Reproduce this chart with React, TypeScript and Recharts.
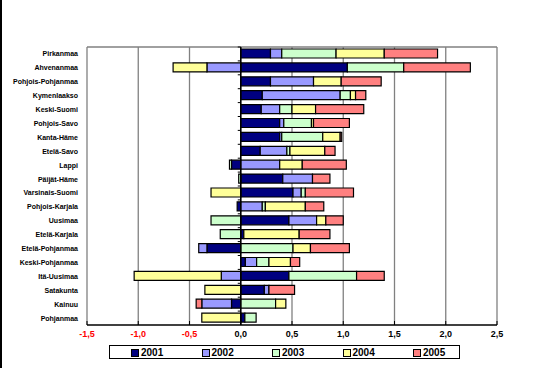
import { BarChart, Bar, XAxis, YAxis, CartesianGrid, ReferenceLine } from "recharts";

const categories = [
  "Pirkanmaa", "Ahvenanmaa", "Pohjois-Pohjanmaa", "Kymenlaakso", "Keski-Suomi",
  "Pohjois-Savo", "Kanta-Häme", "Etelä-Savo", "Lappi", "Päijät-Häme",
  "Varsinais-Suomi", "Pohjois-Karjala", "Uusimaa", "Etelä-Karjala", "Etelä-Pohjanmaa",
  "Keski-Pohjanmaa", "Itä-Uusimaa", "Satakunta", "Kainuu", "Pohjanmaa",
];

const y2001 = [0.29, 1.04, 0.29, 0.21, 0.2, 0.38, 0.38, 0.19, -0.09, 0.41, 0.51, -0.035, 0.47, 0.03, -0.33, 0.045, 0.47, 0.23, -0.09, 0.04];
const y2002 = [0.11, -0.33, 0.42, 0.76, 0.18, 0.04, 0.02, 0.26, 0.38, 0.29, 0.08, 0.21, 0.27, 0, -0.08, 0.11, -0.19, 0.045, -0.29, 0];
const y2003 = [0.53, 0.55, 0, 0.1, 0.12, 0.27, 0.4, 0.03, -0.02, -0.02, 0.04, 0.03, -0.29, -0.2, 0.51, 0.12, 0.66, 0, 0.34, 0.11];
const y2004 = [0.47, -0.33, 0.27, 0.05, 0.23, 0.02, 0.17, 0.34, 0.22, 0, -0.29, 0.39, 0.09, 0.54, 0.17, 0.21, -0.85, -0.35, 0.1, -0.38];
const y2005 = [0.52, 0.65, 0.39, 0.1, 0.47, 0.35, 0.015, 0.1, 0.43, 0.17, 0.47, 0.18, 0.17, 0.3, 0.38, 0.09, 0.27, 0.25, -0.055, 0];

const xTicks = [-1.5, -1, -0.5, 0, 0.5, 1, 1.5, 2, 2.5];

const series = [
  { key: "2001", values: y2001, color: "#000080" },
  { key: "2002", values: y2002, color: "#9999FF" },
  { key: "2003", values: y2003, color: "#CCFFCC" },
  { key: "2004", values: y2004, color: "#FFFF99" },
  { key: "2005", values: y2005, color: "#FF8080" },
];

const data = categories.map((name, i) => {
  const row: Record<string, string | number> = { name };
  series.forEach((s) => (row[s.key] = s.values[i]));
  return row;
});

const FONT = "'Liberation Sans', Arial, sans-serif";

const fmt = (v: number) => v.toFixed(1).replace(".", ",");

const XTick = (props: any) => {
  const { x, y, payload } = props;
  const v = payload.value as number;
  return (
    <g>
      <line x1={x} x2={x} y1={y} y2={y - 4} stroke="#000" />
      <text x={x} y={y + 12} textAnchor="middle" fontFamily={FONT} fontSize={9} fontWeight="bold" fill={v < 0 ? "#FF0000" : "#000"}>
        {fmt(v)}
      </text>
    </g>
  );
};

const YTick = (props: any) => {
  const { x, y, payload } = props;
  return (
    <text x={x - 9} y={y} dy="0.35em" textAnchor="end" fontFamily={FONT} fontSize={7} fontWeight="bold" fill="#000">
      {payload.value}
    </text>
  );
};

// zero axis with small tick marks between categories
const ZeroAxis = (props: any) => {
  const { x1, y1, y2 } = props;
  const top = Math.min(y1, y2);
  const bottom = Math.max(y1, y2);
  const step = (bottom - top) / categories.length;
  return (
    <g>
      <line x1={x1} x2={x1} y1={top} y2={bottom} stroke="#000" strokeWidth={1.5} />
      {categories.map((_, i) => (
        <line key={i} x1={x1 - 3} x2={x1} y1={top + i * step} y2={top + i * step} stroke="#000" />
      ))}
    </g>
  );
};

export default function App() {
  return (
    <div style={{ position: "absolute", left: 0, top: 0, width: 538, height: 368, background: "#fff" }}>
      <div style={{ position: "absolute", left: 0, top: 0, width: 2, height: 368, background: "#000" }} />
      <BarChart
        width={538}
        height={368}
        data={data}
        layout="vertical"
        stackOffset="sign"
        barSize={9}
        margin={{ top: 47, right: 41, left: 0, bottom: 23 }}
      >
        <CartesianGrid
          stroke="#808080"
          strokeWidth={1.3}
          horizontal={true}
          vertical={true}
          horizontalCoordinatesGenerator={({ offset }: any) => [offset.top]}
        />
        <XAxis
          type="number"
          domain={[-1.5, 2.5]}
          ticks={xTicks}
          interval={0}
          axisLine={{ stroke: "#000", strokeWidth: 1.3 }}
          tickLine={false}
          tickSize={0}
          tickMargin={0}
          height={20}
          tick={<XTick />}
        />
        <YAxis
          type="category"
          dataKey="name"
          width={87}
          axisLine={false}
          tickLine={false}
          tickSize={0}
          tickMargin={0}
          interval={0}
          tick={<YTick />}
        />
        {series.map((s) => (
          <Bar key={s.key} dataKey={s.key} stackId="a" fill={s.color} stroke="#000" strokeWidth={1.2} isAnimationActive={false} />
        ))}
        <ReferenceLine x={0} shape={(p: any) => <ZeroAxis {...p} />} />
      </BarChart>
      <div
        style={{
          position: "absolute",
          left: 109,
          top: 345,
          width: 349,
          height: 12,
          border: "1px solid #000",
          fontFamily: FONT,
          fontSize: 10,
          fontWeight: "bold",
        }}
      >
        {series.map((s, i) => (
          <div key={s.key} style={{ position: "absolute", left: 21 + i * 70.5, top: 2, display: "flex", alignItems: "center", lineHeight: "10px" }}>
            <span style={{ display: "inline-block", width: 6, height: 6, background: s.color, border: "1px solid #000", marginRight: 2 }} />
            <span>{s.key}</span>
          </div>
        ))}
      </div>
    </div>
  );
}
